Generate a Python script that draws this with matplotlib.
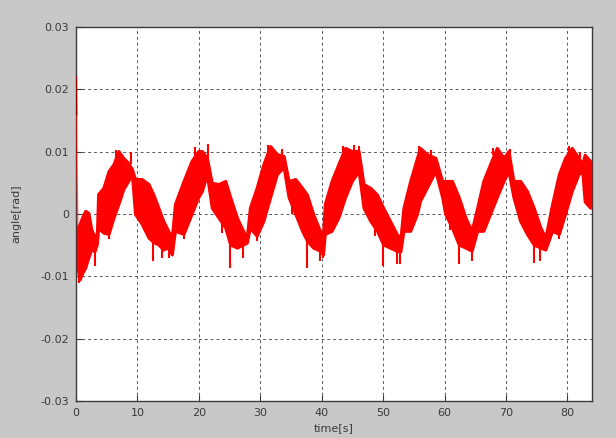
import numpy as np
import matplotlib
matplotlib.use('Agg')
import matplotlib.pyplot as plt

# band envelope of the angle signal (time in s, lower/upper edge in mrad)
time_s = [0.3, 0.6, 1.0, 1.5, 2.0, 2.5, 3.0, 3.4,
          3.6, 4.45, 5.3, 6.1, 6.9, 7.7, 8.5, 9.1,
          9.6, 10.7, 11.8, 12.6, 13.4, 14.2, 15.0, 15.6,
          16.1, 17.5, 18.8, 19.9, 20.5, 21.3,
          22.1, 23.2, 24.3, 25.1, 26.2, 27.2, 27.8,
          28.3, 29.4, 30.5, 31.6, 32.7, 33.8,
          34.6, 35.7, 36.8, 37.6, 38.6, 39.7, 40.2,
          40.5, 41.6, 42.7, 43.8, 44.9, 46.0,
          46.8, 47.9, 49.0, 50.0, 51.1, 52.2, 52.8,
          53.3, 54.4, 55.5, 56.0, 57.1, 58.5,
          59.6, 60.1, 61.2, 62.3, 63.4, 64.4,
          65.3, 66.3, 67.4, 68.5, 69.6, 70.4,
          71.2, 72.3, 73.4, 74.5, 75.6, 76.4,
          77.5, 78.6, 79.6, 80.7, 81.8, 82.4,
          82.8, 83.7]
lower_mrad = [-9.0, -10.5, -9.5, -8.6, -7.0, -5.6, -6.0, -4.8,
              -2.2, -3.0, -3.2, -0.6, 1.6, 4.0, 5.3, 6.4,
              0.0, -1.6, -3.8, -4.5, -4.9, -5.7, -5.4, -6.5,
              -2.7, -3.2, 0.0, 2.7, 3.7, 6.4,
              1.0, -0.6, -2.2, -4.9, -5.4, -4.9, -4.6,
              -2.2, -3.5, -1.1, 2.7, 6.4, 7.5,
              2.7, 0.0, -2.7, -4.3, -5.4, -5.9, -6.5,
              -3.2, -2.7, -0.6, 2.7, 5.3, 6.9,
              1.0, -1.1, -2.7, -4.9, -5.4, -5.9, -6.0,
              -2.7, -2.7, 0.0, 2.1, 4.2, 6.9,
              2.7, 0.0, -2.2, -4.9, -5.4, -5.9,
              -2.7, -2.7, 0.0, 2.7, 5.3, 6.9,
              2.7, -1.1, -3.2, -4.9, -5.4, -5.7,
              -2.7, -3.2, 0.0, 3.7, 6.4, 6.9,
              2.0, 1.0]
upper_mrad = [-2.0, -1.6, -0.5, 0.5, 0.2, -2.5, -3.6, -3.2,
              3.2, 4.2, 6.9, 8.0, 10.1, 9.0, 8.2, 7.2,
              5.6, 5.6, 4.8, 3.1, 1.0, -1.1, -2.7, -3.8,
              1.6, 5.3, 8.5, 10.1, 10.1, 9.0,
              5.0, 4.8, 5.3, 2.7, -0.6, -2.7, -3.8,
              1.0, 4.2, 8.0, 10.9, 9.6, 9.3,
              5.3, 5.6, 4.2, 3.1, 0.0, -2.7, -3.5,
              1.6, 5.3, 8.0, 10.6, 10.1, 10.1,
              4.8, 4.2, 3.1, 1.0, -1.1, -3.2, -4.0,
              1.0, 5.3, 9.0, 10.6, 9.6, 9.0,
              5.3, 5.3, 5.3, 2.7, -0.6, -2.7,
              1.0, 5.3, 8.0, 10.6, 9.0, 10.1,
              5.3, 5.3, 3.7, 1.0, -2.2, -3.8,
              1.6, 6.4, 9.0, 10.6, 9.0, 8.0,
              9.5, 8.5]

# start-up transient
start_t = [0.0, 0.05, 0.15, 0.3]
start_mrad = [22.0, 16.0, 6.0, -2.0]

# narrow spikes sticking out of the band
spike_t = [0.5, 3.1, 5.3, 12.6, 15.1, 17.5, 21.5, 25.1, 27.2, 29.4,
           37.6, 39.7, 40.2, 46.1, 50.0, 52.2, 52.8, 62.3, 64.4, 70.6,
           74.5, 75.6, 78.6,
           6.5, 8.9, 11.0, 14.0, 19.3, 23.8, 31.2, 33.5, 35.2, 43.4,
           45.3, 48.6, 55.8, 57.8, 60.8, 67.9, 72.8, 80.3, 82.0]
spike_from = [-9.5, -4.5, -3.2, -4.5, -5.4, -3.2, 9.0, -4.9, -4.9, -3.5,
              -4.3, -5.9, -6.5, 10.1, -4.9, -5.9, -6.0, -4.9, -5.9, 9.0,
              -4.9, -5.4, -3.2,
              9.0, 8.0, -1.0, -5.5, 9.5, -1.5, 10.0, 9.3, 1.5, 10.0,
              10.1, -2.0, 9.5, 9.3, -1.0, 9.5, 0.0, 10.0, 9.0]
spike_to = [-11.0, -8.3, -4.0, -7.5, -7.0, -4.0, 11.2, -8.6, -7.0, -4.3,
            -8.6, -7.5, -7.0, 10.9, -8.3, -8.0, -8.0, -8.0, -7.5, 10.4,
            -7.8, -7.5, -4.0,
            10.3, 10.0, -2.5, -7.0, 10.8, -3.0, 11.0, 10.4, 0.0, 10.9,
            11.0, -3.5, 10.9, 10.3, -2.5, 10.6, -1.5, 10.9, 9.9]

fig = plt.figure(figsize=(6.16, 4.38), dpi=100, facecolor='#c8c8c8')
ax = fig.add_axes([0.1234, 0.0845, 0.8377, 0.854])
ax.set_facecolor('white')

t = np.array(time_s)
lo = np.array(lower_mrad) * 1e-3
hi = np.array(upper_mrad) * 1e-3
ax.fill_between(t, lo, hi, color='red', edgecolor='red', lw=2.2, zorder=3)
ax.plot(start_t, np.array(start_mrad) * 1e-3, color='red', lw=1.2, alpha=0.55, zorder=3)
ax.plot(start_t[:2], np.array(start_mrad[:2]) * 1e-3, color='#8b0000', lw=1.5, zorder=4)
ax.vlines(spike_t, np.array(spike_from) * 1e-3, np.array(spike_to) * 1e-3,
          color='red', lw=1.5, zorder=3)

ax.set_xlim(0, 84)
ax.set_ylim(-0.03, 0.03)
ax.set_xticks(range(0, 81, 10))
ax.set_yticks([-0.03, -0.02, -0.01, 0, 0.01, 0.02, 0.03])
ax.set_yticklabels(['-0.03', '-0.02', '-0.01', '0', '0.01', '0.02', '0.03'])
ax.grid(True, color='0.35', linestyle=(0, (3, 3)), lw=0.7)
ax.tick_params(direction='in', length=4, labelsize=8, colors='#3a3a3a', pad=5)
for s in ax.spines.values():
    s.set_color('#3a3a3a')
    s.set_linewidth(1.0)

ax.set_xlabel('time[s]', fontsize=8, color='#3a3a3a', labelpad=4)
ax.set_ylabel('angle[rad]', fontsize=8, color='#3a3a3a', labelpad=14)

fig.savefig('out.png', dpi=100, facecolor=fig.get_facecolor())
